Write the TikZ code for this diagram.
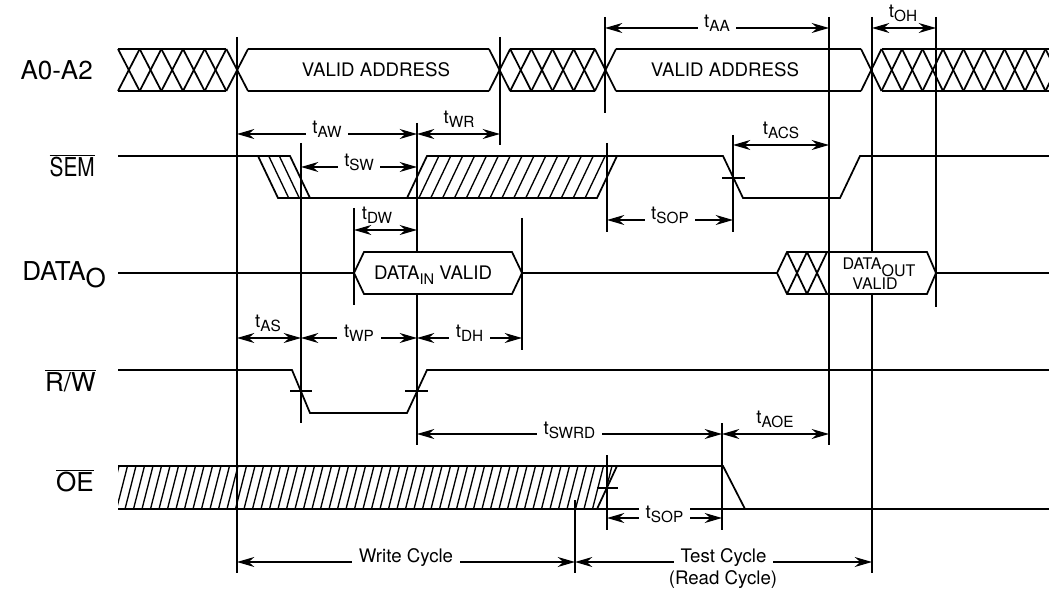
\documentclass[tikz,border=0pt]{standalone}
\usepackage{fontspec}
\setmainfont{TeX Gyre Heros}
\usetikzlibrary{arrows.meta}

% t with a lowered subscript, as in the data sheet
\newcommand{\tsub}[1]{t\raisebox{-3pt}{\fontsize{11.5}{12}\selectfont #1}}

\tikzset{
  sig/.style={line width=1.3pt},
  guide/.style={line width=1.3pt},
  hatch/.style={line width=1pt},
  dim/.style={line width=1pt, {Stealth[length=13pt,width=7.5pt]}-{Stealth[length=13pt,width=7.5pt]}},
  sname/.style={font=\fontsize{19.5}{21}\selectfont, inner sep=0.75pt},
  tlab/.style={font=\fontsize{14}{15}\selectfont, inner sep=0.75pt},
  gaplab/.style={tlab, fill=white, inner xsep=5pt, anchor=base},
  cyclab/.style={font=\fontsize{14}{15}\selectfont, fill=white, inner sep=0.75pt, inner xsep=5pt, anchor=base},
  bustext/.style={font=\fontsize{14}{16}\selectfont, inner sep=0.75pt},
}

\begin{document}
\begin{tikzpicture}[x=0.75pt,y=0.75pt,yscale=-1,xscale=1]
\useasboundingbox (0,0) rectangle (1049,591);

%Straight Lines: timing marks
\draw[guide] (237,37) -- (237,573);
\draw[guide] (301,143) -- (301,423);
\draw[guide] (417,123) -- (417,445);
\draw[guide] (500,37) -- (500,145);
\draw[guide] (354,208) -- (354,305);
\draw[guide] (522,218) -- (522,350);
\draw[guide] (605,17) -- (605,113);
\draw[guide] (607,143) -- (607,232);
\draw[guide] (607,455) -- (607,530);
\draw[guide] (575,500) -- (575,573);
\draw[guide] (722,423) -- (722,530);
\draw[guide] (733,135) -- (733,232);
\draw[guide] (829,17) -- (829,445);
\draw[guide] (872,17) -- (872,573);
\draw[guide] (936,17) -- (936,307);

%Bus: A0-A2
\draw[sig] (118,49) -- (226,49) (248,49) -- (489,49) (510,49) -- (595,49) (616,49) -- (861,49) (882,49) -- (1049,49);
\draw[sig] (118,91) -- (226,91) (248,91) -- (489,91) (510,91) -- (595,91) (616,91) -- (861,91) (882,91) -- (1049,91);
\foreach \i in {0,...,5} {
  \draw[sig] ({118+21.67*\i},49) -- ({118+21.67*(\i+1)},91);
  \draw[sig] ({118+21.67*\i},91) -- ({118+21.67*(\i+1)},49);
  \draw[sig] ({489+21.17*\i},49) -- ({489+21.17*(\i+1)},91);
  \draw[sig] ({489+21.17*\i},91) -- ({489+21.17*(\i+1)},49);
}
\begin{scope}
  \clip (850,40) rectangle (1049,100);
  \foreach \i in {0,...,9} {
    \draw[sig] ({861+20.5*\i},49) -- ({881.5+20.5*\i},91);
    \draw[sig] ({861+20.5*\i},91) -- ({881.5+20.5*\i},49);
  }
\end{scope}

%Signal: SEM
\draw[sig] (118,156) -- (290,156) -- (310,198);
\draw[sig] (258,156) -- (278,198) -- (597,198) -- (617,156);
\foreach \d in {10.7,21.3}
  \draw[hatch] ({258+\d},156) -- ({278+\d},198);
\draw[sig] (407,198) -- (427,156) -- (723,156) -- (743,198) -- (840,198) -- (860,156) -- (1049,156);
\foreach \i in {1,...,15}
  \draw[hatch] ({407+11.875*\i},198) -- ({427+11.875*\i},156);
\draw[sig] (722,178) -- (745,178);

%Signal: DATA
\draw[sig] (118,273) -- (354,273) (522,273) -- (777,273) (936,273) -- (1049,273);
\draw[sig, fill=white] (354,273) -- (364,252) -- (512,252) -- (522,273) -- (512,294) -- (364,294) -- cycle;
\draw[sig, fill=white] (777,273) -- (787,252) -- (927,252) -- (936,273) -- (927,294) -- (787,294) -- cycle;
\foreach \i in {0,1} {
  \draw[sig] ({787+20*\i},252) -- ({807+20*\i},294);
  \draw[sig] ({787+20*\i},294) -- ({807+20*\i},252);
}
\draw[guide] (829,252) -- (829,294);

%Signal: R/W
\draw[sig] (118,370) -- (292,370) -- (310,413) -- (407,413) -- (427,370) -- (1049,370);
\draw[sig] (290,391) -- (312,391);
\draw[sig] (405,391) -- (428,391);

%Signal: OE
\begin{scope}
  \clip (118,466) -- (617,466) -- (597,509) -- (118,509) -- cycle;
  \foreach \i in {0,...,60}
    \draw[hatch] ({108+8.5*\i},509) -- ({119+8.5*\i},466);
\end{scope}
\draw[sig] (118,466) -- (723,466) -- (745,509);
\draw[sig] (118,509) -- (1049,509);
\draw[sig] (597,509) -- (617,466);
\draw[sig] (597,488) -- (618,488);

% Text Node
\node[sname, anchor=east] (nA) at (94,70) {A0-A2};
\node[sname, anchor=east] (nSEM) at (96,166) {$\overline{\mbox{\scalebox{0.8}[1]{SEM}}}$};
\node[sname, anchor=west] (nDATA) at (21,275) {DATA\raisebox{-5pt}{O}};
\node[sname, anchor=east] (nRW) at (97,381) {$\overline{\mbox{R/W}}$};
\node[sname, anchor=east] (nOE) at (95,481) {$\overline{\mbox{OE}}$};
% Text Node
\node[bustext] (va1) at (376,70) {VALID ADDRESS};
\node[bustext] (va2) at (725,70) {VALID ADDRESS};
\node[bustext] (din) at (433,275) {DATA\raisebox{-4pt}{\fontsize{11}{12}\selectfont IN} VALID};
\node[font=\fontsize{12}{13}\selectfont, inner sep=0.75pt] (dout) at (879,267) {DATA\raisebox{-5pt}{OUT}};
\node[font=\fontsize{12}{13}\selectfont, inner sep=0.75pt] (doutv) at (875,284) {VALID};

%Dimension arrows
\draw[dim] (237,134) -- (417,134) node[gaplab, midway] (lAW) {\tsub{AW}};
\draw[dim] (417,134) -- (500,134);
\node[tlab] (lWR) at (459,119) {\tsub{WR}};
\draw[dim] (301,167) -- (417,167) node[gaplab, midway] (lSW) {\tsub{SW}};
\draw[dim] (354,230) -- (417,230);
\node[tlab] (lDW) at (377,215) {\tsub{DW}};
\draw[dim] (237,338) -- (301,338);
\node[tlab] (lAS) at (268,323) {\tsub{AS}};
\draw[dim] (301,338) -- (417,338) node[gaplab, midway] (lWP) {\tsub{WP}};
\draw[dim] (417,338) -- (522,338) node[gaplab, midway] (lDH) {\tsub{DH}};
\draw[dim] (417,434) -- (722,434) node[gaplab, midway] (lSWRD) {\tsub{SWRD}};
\draw[dim] (722,434) -- (829,434);
\node[tlab] (lAOE) at (775,419) {\tsub{AOE}};
\draw[dim] (605,28) -- (829,28) node[gaplab, midway] (lAA) {\tsub{AA}};
\draw[dim] (872,28) -- (936,28);
\node[tlab] (lOH) at (903,13) {\tsub{OH}};
\draw[dim] (733,145) -- (829,145);
\node[tlab] (lACS) at (781,130) {\tsub{ACS}};
\draw[dim] (607,220) -- (733,220) node[gaplab, midway] (lSOP) {\tsub{SOP}};
\draw[dim] (607,518) -- (722,518) node[gaplab, midway] (lSOPb) {\tsub{SOP}};
\draw[dim] (237,562) -- (575,562) node[cyclab, midway] (lWC) {Write Cycle};
\draw[dim] (575,562) -- (872,562) node[cyclab, midway] (lTC) {Test Cycle};
\node[font=\fontsize{14}{15}\selectfont, inner sep=0.75pt] (lRC) at (723,580) {(Read Cycle)};

\end{tikzpicture}
\end{document}
